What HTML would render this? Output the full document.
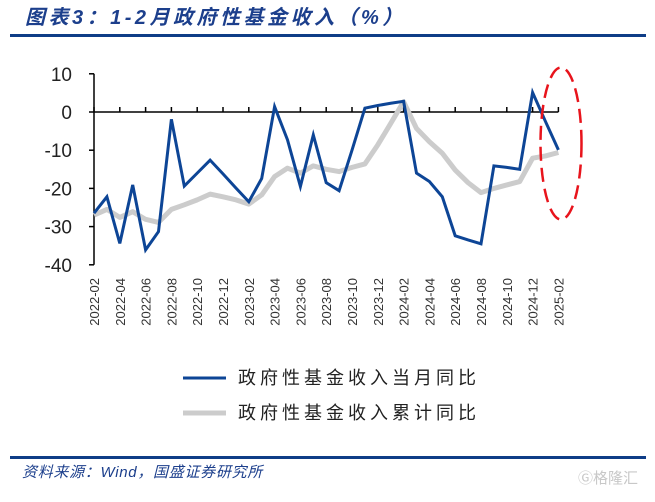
<!DOCTYPE html>
<html><head><meta charset="utf-8"><style>
body{margin:0;background:#fff;width:655px;height:497px;overflow:hidden;font-family:"Liberation Sans","Noto Sans CJK SC",sans-serif;}
</style></head><body>
<svg width="655" height="497" xmlns="http://www.w3.org/2000/svg">
<text x="25" y="24" font-size="20" font-weight="bold" font-style="italic" fill="#1c3f8c" letter-spacing="3.5" font-family="Liberation Sans, Noto Sans CJK SC, sans-serif">图表3：1-2月政府性基金收入（%）</text>
<rect x="10" y="34" width="636" height="3" fill="#0f3d87"/>
<g id="plot"></g>
<g>
<line x1="183" y1="378" x2="226" y2="378" stroke="#0d4596" stroke-width="3"/>
<text x="238" y="384" font-size="18" letter-spacing="4" fill="#222">政府性基金收入当月同比</text>
<line x1="183" y1="413" x2="226" y2="413" stroke="#cccccc" stroke-width="5"/>
<text x="238" y="419" font-size="18" letter-spacing="4" fill="#222">政府性基金收入累计同比</text>
</g>
<rect x="10" y="456" width="636" height="3" fill="#0f3d87"/>
<text x="22" y="477" font-size="15" font-style="italic" letter-spacing="0.7" fill="#1c3f8c">资料来源：Wind，国盛证券研究所</text>
<text x="578" y="483" font-size="15" fill="#c8c8c8">Ⓖ格隆汇</text>
</svg>
<script>
const categories=["2022-02","2022-03","2022-04","2022-05","2022-06","2022-07","2022-08","2022-09","2022-10","2022-11","2022-12","2023-01","2023-02","2023-03","2023-04","2023-05","2023-06","2023-07","2023-08","2023-09","2023-10","2023-11","2023-12","2024-01","2024-02","2024-03","2024-04","2024-05","2024-06","2024-07","2024-08","2024-09","2024-10","2024-11","2024-12","2025-01","2025-02"];
const monthly=[-26.5,-22.2,-34.4,-19.1,-36.1,-31.3,-1.9,-19.4,-16,-12.6,-16.2,-19.9,-23.5,-17.4,1.4,-7.3,-19.5,-6,-18.5,-20.6,-10,1,1.7,2.3,2.8,-16,-18.2,-22.2,-32.4,-33.5,-34.5,-14.1,-14.5,-15,5.1,-2.5,-9.9];
const cumulative=[-27,-25.5,-27.6,-26.1,-28.1,-28.9,-25.5,-24.3,-23,-21.5,-22.2,-23,-24.1,-21.7,-16.9,-14.7,-16,-14.1,-15,-15.6,-14.5,-13.6,-8.6,-3,2.7,-4.3,-7.8,-10.8,-15.2,-18.5,-21.1,-20,-19.1,-18.2,-12.1,-11.5,-10.6];
const yTicks=[10,0,-10,-20,-30,-40];
const NS="http://www.w3.org/2000/svg";
const g=document.getElementById('plot');
const X0=94,DX=12.9,Y0=112,PY=3.82;
const xs=i=>X0+i*DX, ys=v=>Y0-v*PY;
function mk(t,a){const e=document.createElementNS(NS,t);for(const k in a)e.setAttribute(k,a[k]);g.appendChild(e);return e;}
let ax=mk('line',{x1:X0,y1:ys(10),x2:X0,y2:ys(-40),stroke:'#000','stroke-width':1.5});


yTicks.forEach(v=>{
 let t=mk('line',{x1:X0-5,y1:ys(v),x2:X0,y2:ys(v),stroke:'#000','stroke-width':1.5});
 
 
 let l=mk('text',{x:X0-22,y:ys(v)+7,'font-size':19,'text-anchor':'end',fill:'#222'});
 l.textContent=v;
 
 
});
let zx=mk('line',{x1:X0,y1:Y0,x2:xs(categories.length-1),y2:Y0,stroke:'#000','stroke-width':1.5});


categories.forEach((c,i)=>{
 if(i%2)return;
 let t=mk('line',{x1:xs(i),y1:Y0-5,x2:xs(i),y2:Y0,stroke:'#000','stroke-width':1.5});
 
 
 let l=mk('text',{x:0,y:0,'font-size':13,'text-anchor':'end',fill:'#333',transform:`translate(${xs(i)+5},278) rotate(-90)`});
 l.textContent=c;
 
 
});
let pc=mk('polyline',{points:cumulative.map((v,i)=>xs(i)+','+ys(v)).join(' '),fill:'none',stroke:'#cccccc','stroke-width':5,'stroke-linejoin':'round'});


let pm=mk('polyline',{points:monthly.map((v,i)=>xs(i)+','+ys(v)).join(' '),fill:'none',stroke:'#0d4596','stroke-width':3,'stroke-linejoin':'miter'});


let el=mk('ellipse',{cx:561,cy:143.5,rx:20.5,ry:76,fill:'none',stroke:'#e8141c','stroke-width':2.5,'stroke-dasharray':'14 7'});


</script>
</body></html>
